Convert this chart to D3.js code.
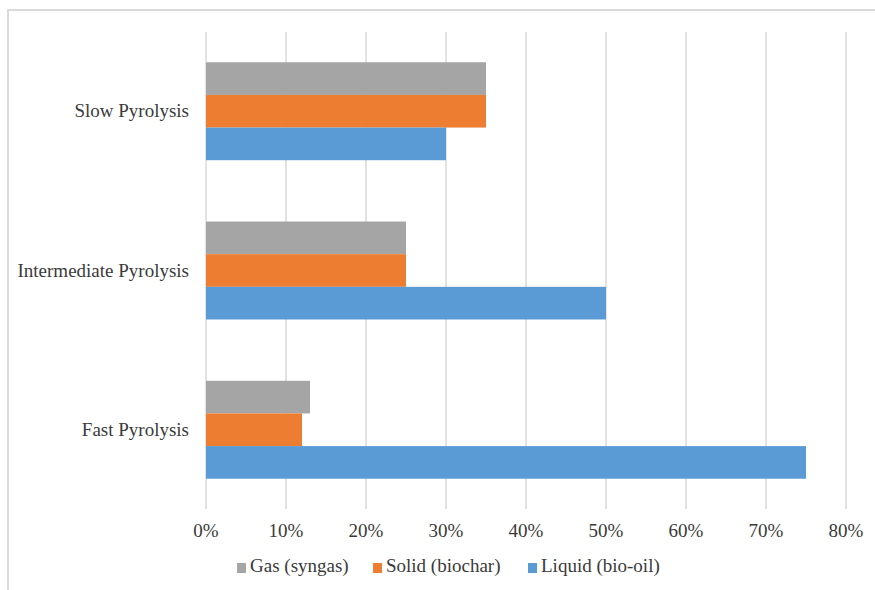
<!DOCTYPE html>
<html>
<head>
<meta charset="utf-8">
<script src="https://cdn.jsdelivr.net/npm/d3@7"></script>
<style>
  html, body { margin: 0; padding: 0; background: #fff; }
  svg { display: block; }
</style>
</head>
<body>
<svg id="chart" width="875" height="590"></svg>
<script>
// Pyrolysis product yields (% of feedstock)
const categories = ["Slow Pyrolysis", "Intermediate Pyrolysis", "Fast Pyrolysis"];
const seriesNames = ["Gas (syngas)", "Solid (biochar)", "Liquid (bio-oil)"];
const gasValues = [35, 25, 13];
const solidValues = [35, 25, 12];
const liquidValues = [30, 50, 75];
const xTicks = [0, 10, 20, 30, 40, 50, 60, 70, 80];
const seriesColors = ["#A5A5A5", "#ED7D31", "#5B9BD5"];

const seriesValues = [gasValues, solidValues, liquidValues];
const FONT = '"Liberation Serif"';
const FONT_SIZE = "19px";
const TEXT_COLOR = "#3a3a3a";

const svg = d3.select("#chart");

// chart frame
svg.append("rect")
  .attr("x", 8).attr("y", 10)
  .attr("width", 900).attr("height", 620)
  .attr("fill", "#fff")
  .attr("stroke", "#d9d9d9").attr("stroke-width", 2);

const plot = { left: 206, right: 846, top: 32, bottom: 509 };

const x = d3.scaleLinear().domain([0, 80]).range([plot.left, plot.right]);
const y = d3.scaleBand().domain(categories).range([plot.top, plot.bottom])
  .paddingInner(0.385).paddingOuter(0.19);
const ySub = d3.scaleBand().domain(seriesNames).range([0, y.bandwidth()]);

// vertical gridlines
svg.append("g")
  .selectAll("line")
  .data(xTicks)
  .join("line")
  .attr("x1", d => x(d)).attr("x2", d => x(d))
  .attr("y1", plot.top).attr("y2", plot.bottom)
  .attr("stroke", "#d9d9d9").attr("stroke-width", 1.5);

// bars
const groups = svg.append("g")
  .selectAll("g")
  .data(categories)
  .join("g")
  .attr("transform", d => `translate(0,${y(d)})`);

groups.selectAll("rect")
  .data((c, i) => seriesNames.map((s, j) => ({ s, j, v: seriesValues[j][i] })))
  .join("rect")
  .attr("x", x(0))
  .attr("y", d => ySub(d.s))
  .attr("width", d => x(d.v) - x(0))
  .attr("height", ySub.bandwidth())
  .attr("fill", d => seriesColors[d.j]);

function styleText(sel) {
  return sel.style("font-family", FONT)
    .style("font-size", FONT_SIZE)
    .style("fill", TEXT_COLOR);
}

// category labels
svg.append("g")
  .selectAll("text")
  .data(categories)
  .join("text")
  .attr("x", 189)
  .attr("y", d => y(d) + y.bandwidth() / 2)
  .attr("dy", "0.32em")
  .attr("text-anchor", "end")
  .call(styleText)
  .text(d => d);

// x tick labels
svg.append("g")
  .selectAll("text")
  .data(xTicks)
  .join("text")
  .attr("x", d => x(d))
  .attr("y", 537)
  .attr("text-anchor", "middle")
  .call(styleText)
  .text(d => d + "%");

// legend
const legendX = [237, 373, 528];
const legend = svg.append("g")
  .selectAll("g")
  .data(seriesNames)
  .join("g")
  .attr("transform", (d, i) => `translate(${legendX[i]},563)`);
legend.append("rect")
  .attr("width", 9).attr("height", 10)
  .attr("fill", (d, i) => seriesColors[i]);
legend.append("text")
  .attr("x", 13).attr("y", 9)
  .call(styleText)
  .text(d => d);
</script>
</body>
</html>
